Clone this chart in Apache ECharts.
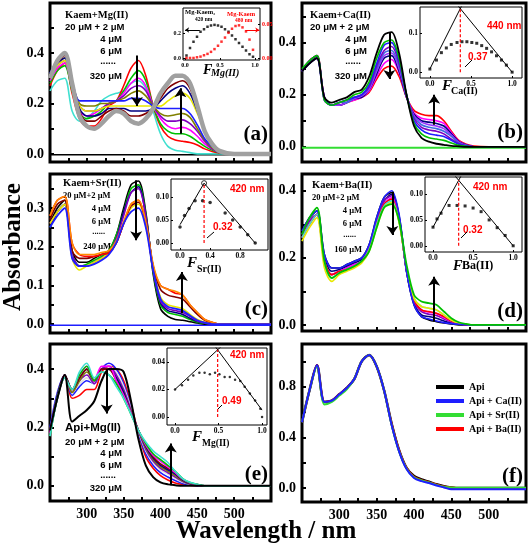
<!DOCTYPE html>
<html><head><meta charset="utf-8">
<script src="https://cdn.jsdelivr.net/npm/echarts@6/dist/echarts.min.js"></script>
<style>html,body{margin:0;padding:0;background:#fff}#c{width:529px;height:550px}</style>
</head><body><div id="c"></div>
<script>
// ---------- DATA ----------
const W = [250,260,270,280,290,300,310,320,330,340,350,360,370,380,390,400,410,420,430,440,450,460,470,480,500,550];
const baseW = [250, 550];
const baseZero = [-0.003, -0.003];

const aRed    = [.27,.33,.36,.24,.14,.11,.11,.14,.19,.21,.27,.34,.37,.31,.19,.11,.07,.055,.05,.045,.035,.02,.01,.004,0,0];
const aCyan   = [.25,.29,.30,.17,.13,.14,.17,.21,.23,.24,.25,.28,.29,.26,.17,.08,.03,.015,.01,.005,0,0,0,0,0,0];
const aGreen  = [.28,.33,.35,.25,.16,.14,.15,.17,.20,.21,.25,.30,.33,.29,.19,.12,.09,.08,.08,.07,.05,.03,.015,.005,0,0];
const aMag    = [.29,.34,.36,.26,.17,.15,.16,.18,.20,.21,.24,.28,.30,.27,.19,.14,.11,.10,.105,.095,.07,.04,.02,.006,0,0];
const aPurple = [.30,.35,.37,.27,.19,.17,.17,.18,.20,.21,.23,.26,.27,.25,.19,.15,.13,.13,.135,.12,.09,.05,.02,.007,0,0];
const aOlive  = [.31,.36,.38,.28,.20,.19,.19,.20,.20,.21,.22,.24,.25,.23,.19,.16,.15,.155,.16,.145,.10,.055,.025,.008,0,0];
const aBlue   = [.32,.37,.40,.29,.21,.21,.21,.21,.21,.21,.21,.22,.22,.21,.19,.18,.18,.18,.18,.16,.115,.06,.03,.01,0,0];
const aYellow = [.30,.35,.37,.27,.19,.17,.17,.18,.19,.19,.19,.19,.19,.19,.19,.19,.21,.23,.24,.22,.16,.09,.04,.012,0,0];
const aNavy   = [.31,.36,.38,.28,.18,.15,.15,.16,.18,.18,.18,.17,.17,.17,.18,.21,.24,.26,.27,.24,.17,.09,.04,.012,0,0];
const aWine   = [.30,.36,.39,.28,.17,.13,.13,.15,.17,.18,.17,.15,.15,.16,.18,.22,.26,.28,.29,.26,.18,.09,.04,.012,0,0];
const aGray   = [.30,.37,.40,.28,.15,.11,.10,.12,.15,.17,.16,.13,.12,.14,.18,.24,.28,.31,.31,.28,.19,.09,.04,.012,0,0];

const bBlack  = [.29,.32,.34,.19,.17,.18,.19,.21,.22,.27,.36,.43,.44,.36,.20,.08,.035,.02,.012,.008,.004,.002,0,0,0,0];
const bGreen  = [.30,.33,.35,.18,.16,.17,.18,.20,.21,.25,.34,.40,.41,.34,.20,.09,.05,.035,.03,.025,.015,.006,.002,0,0,0];
const bBlue1  = [.29,.32,.34,.19,.16,.17,.18,.19,.20,.24,.32,.39,.40,.33,.20,.10,.065,.05,.045,.04,.025,.01,.003,0,0,0];
const bPurple = [.29,.32,.34,.19,.16,.17,.18,.19,.20,.23,.31,.37,.385,.32,.20,.11,.075,.065,.06,.05,.03,.012,.004,0,0,0];
const bBlue2  = [.29,.32,.34,.18,.16,.17,.17,.19,.20,.23,.30,.36,.37,.31,.195,.115,.085,.075,.07,.06,.04,.015,.005,0,0,0];
const bViolet = [.29,.33,.34,.18,.16,.16,.17,.185,.195,.22,.29,.35,.36,.30,.195,.12,.095,.085,.08,.07,.045,.018,.006,0,0,0];
const bNavy   = [.29,.33,.35,.18,.16,.16,.17,.185,.19,.22,.28,.34,.35,.29,.19,.125,.10,.095,.09,.08,.05,.02,.007,0,0,0];
const bMag    = [.29,.33,.35,.18,.16,.16,.17,.18,.19,.215,.27,.32,.335,.285,.19,.13,.11,.105,.10,.09,.055,.022,.008,0,0,0];
const bRed    = [.29,.33,.35,.19,.16,.16,.17,.18,.19,.21,.26,.30,.31,.27,.19,.14,.125,.12,.12,.10,.06,.025,.01,.003,0,0];

const cBlack  = [.26,.30,.32,.19,.16,.16,.17,.18,.19,.23,.30,.36,.37,.29,.13,.04,.02,.012,.01,.006,.003,0,0,0,0,0];
const cGreen  = [.25,.29,.31,.18,.15,.155,.165,.175,.19,.23,.29,.35,.36,.285,.135,.05,.03,.025,.02,.012,.005,.002,0,0,0,0];
const cNavy   = [.25,.29,.31,.18,.15,.15,.16,.17,.185,.22,.29,.34,.355,.28,.14,.055,.035,.03,.025,.015,.007,.003,0,0,0,0];
const cPurple = [.26,.29,.31,.18,.15,.15,.16,.17,.185,.22,.28,.34,.35,.28,.14,.06,.04,.035,.03,.02,.008,.003,0,0,0,0];
const cBlue   = [.25,.28,.30,.17,.15,.15,.155,.165,.18,.21,.26,.29,.30,.25,.14,.065,.045,.04,.035,.022,.01,.004,0,0,0,0];
const cYellow = [.26,.29,.31,.17,.14,.15,.16,.17,.185,.21,.26,.30,.31,.26,.145,.07,.05,.045,.04,.025,.012,.005,.002,0,0,0];
const cWine   = [.27,.31,.32,.19,.17,.17,.175,.18,.185,.21,.26,.305,.315,.265,.15,.09,.075,.07,.065,.045,.025,.01,.004,0,0,0];
const cRed    = [.28,.32,.33,.21,.18,.175,.175,.18,.185,.21,.26,.31,.32,.26,.15,.10,.09,.08,.075,.05,.03,.012,.005,0,0,0];
const cOrange = [.28,.32,.33,.21,.18,.18,.18,.185,.19,.215,.265,.31,.32,.265,.155,.10,.09,.085,.075,.05,.03,.012,.005,0,0,0];

const dBlue   = [.28,.32,.34,.21,.17,.17,.18,.19,.20,.24,.32,.38,.40,.33,.16,.06,.025,.018,.012,.007,.004,.002,0,0,0,0];
const dBlack  = [.28,.32,.34,.21,.17,.17,.18,.19,.20,.24,.32,.38,.395,.325,.16,.06,.025,.015,.01,.006,.003,0,0,0,0,0];
const dNavy   = [.27,.31,.33,.20,.16,.165,.175,.185,.195,.23,.31,.37,.39,.32,.16,.065,.03,.025,.02,.012,.006,.003,0,0,0,0];
const dPurple = [.27,.31,.33,.19,.15,.16,.17,.18,.19,.23,.31,.37,.385,.32,.165,.07,.04,.032,.028,.018,.009,.004,0,0,0,0];
const dMag    = [.26,.30,.33,.19,.15,.16,.17,.18,.19,.23,.30,.36,.38,.315,.165,.075,.045,.038,.034,.022,.011,.005,0,0,0,0];
const dRed    = [.26,.30,.33,.19,.15,.16,.165,.175,.19,.225,.30,.36,.375,.31,.165,.075,.045,.04,.035,.025,.012,.005,0,0,0,0];
const dCyan   = [.26,.30,.33,.18,.14,.155,.165,.175,.19,.225,.30,.355,.37,.31,.17,.08,.055,.05,.045,.03,.015,.006,.002,0,0,0];
const dYellow = [.25,.29,.32,.17,.13,.15,.16,.17,.185,.22,.29,.35,.365,.305,.17,.08,.055,.05,.045,.03,.015,.006,.002,0,0,0];
const dGreen  = [.27,.32,.35,.19,.14,.155,.165,.175,.19,.22,.29,.35,.36,.31,.18,.09,.07,.065,.06,.04,.02,.008,.003,0,0,0];

const eBlack  = [.19,.30,.38,.22,.24,.26,.29,.36,.40,.40,.39,.29,.16,.07,.03,.012,.005,.002,0,0,0,0,0,0,0,0];
const eRed    = [.19,.31,.38,.30,.31,.33,.33,.39,.41,.40,.36,.28,.18,.10,.06,.035,.02,.01,.005,.002,0,0,0,0,0,0];
const eBlue   = [.20,.32,.38,.31,.34,.36,.35,.40,.42,.40,.35,.27,.18,.11,.07,.045,.03,.018,.008,.003,0,0,0,0,0,0];
const eGray   = [.19,.31,.38,.32,.35,.37,.35,.40,.41,.39,.34,.265,.185,.12,.08,.055,.04,.025,.012,.005,.002,0,0,0,0,0];
const ePurple = [.19,.31,.38,.32,.36,.38,.35,.40,.41,.38,.33,.26,.19,.125,.085,.06,.045,.03,.015,.006,.002,0,0,0,0,0];
const eOlive  = [.18,.31,.38,.32,.36,.39,.36,.40,.40,.37,.32,.255,.19,.13,.09,.065,.05,.035,.017,.007,.003,0,0,0,0,0];
const eNavy   = [.18,.31,.38,.33,.37,.40,.36,.40,.40,.37,.32,.25,.19,.135,.095,.07,.055,.04,.02,.008,.003,0,0,0,0,0];
const eWine   = [.18,.30,.38,.33,.37,.40,.36,.40,.40,.36,.31,.25,.19,.14,.10,.075,.06,.045,.022,.01,.004,0,0,0,0,0];
const eMag    = [.18,.30,.37,.33,.38,.41,.36,.41,.41,.36,.31,.25,.19,.14,.105,.085,.065,.045,.023,.01,.004,0,0,0,0,0];
const eGreen  = [.17,.30,.37,.33,.38,.41,.36,.39,.38,.35,.30,.245,.19,.145,.11,.09,.07,.05,.025,.011,.005,0,0,0,0,0];
const eCyan   = [.17,.30,.37,.33,.39,.42,.37,.39,.38,.34,.30,.245,.19,.15,.12,.10,.08,.05,.025,.012,.005,0,0,0,0,0];

const fApi    = [.52,.77,.97,.68,.69,.74,.79,.86,1.00,1.05,.96,.77,.51,.30,.16,.095,.068,.05,.03,.015,.005,0,0,0,0,0];
const fApiBa  = [.52,.77,.97,.68,.69,.74,.79,.86,1.00,1.05,.96,.77,.51,.30,.16,.09,.063,.047,.028,.013,.005,0,0,0,0,0];
const fApiSr  = [.52,.77,.96,.66,.68,.73,.78,.86,1.00,1.05,.96,.77,.50,.29,.155,.085,.06,.044,.025,.01,.004,.002,.002,.002,.002,.002];
const fApiCa  = [.52,.77,.97,.68,.69,.74,.79,.86,1.00,1.05,.96,.77,.50,.29,.15,.08,.055,.04,.02,.005,-.01,-.01,-.01,-.01,-.01,-.01];
const fNames  = ['Api','Api + Ca(II)','Api + Sr(II)','Api + Ba(II)'];

const iaX     = [0.02,0.07,0.12,0.17,0.22,0.27,0.32,0.37,0.42,0.47,0.52,0.57,0.62,0.67,0.72,0.77,0.82,0.87,0.92,0.97];
const iaKaem2 = [0.02,0.08,0.13,0.17,0.21,0.23,0.25,0.26,0.265,0.26,0.25,0.23,0.21,0.18,0.15,0.12,0.09,0.06,0.03,0.01];
const iaKaem  = [0.0,0.0,0.0,0.001,0.002,0.004,0.006,0.009,0.013,0.018,0.024,0.03,0.037,0.043,0.047,0.048,0.045,0.039,0.027,0.012];
const ibX = [0,0.08,0.14,0.2,0.26,0.33,0.39,0.45,0.51,0.57,0.63,0.69,0.75,0.81,0.87,0.93,1.0];
const ibY = [0.008,0.031,0.05,0.062,0.071,0.076,0.078,0.078,0.076,0.074,0.068,0.061,0.052,0.042,0.031,0.018,0.0];
const ibLeftX = [0, 0.42], ibLeftY = [0.008, 0.184];
const ibRightX = [0.3, 1.0], ibRightY = [0.181, 0.0];
const ibPeak = [0.37, 0.163];
const icX = [0,0.06,0.12,0.2,0.3,0.4,0.6,0.7,0.8,0.9,1.0];
const icY = [0.035,0.06,0.075,0.092,0.092,0.088,0.065,0.05,0.035,0.018,0.0];
const icLeftX = [0, 0.32], icLeftY = [0.04, 0.13];
const icRightX = [0.32, 1.0], icRightY = [0.13, 0.0];
const icPeak = [0.32, 0.13];
const idX = [0,0.05,0.1,0.2,0.3,0.4,0.5,0.6,0.7,0.8,0.9,1.0];
const idY = [0.036,0.052,0.063,0.078,0.078,0.077,0.073,0.066,0.05,0.035,0.02,0.0];
const idLeftX = [0, 0.42], idLeftY = [0.036, 0.155];
const idRightX = [0.2, 1.0], idRightY = [0.149, 0.0];
const idPeak = [0.32, 0.127];
const ieX = [0,0.08,0.15,0.21,0.28,0.34,0.40,0.46,0.51,0.57,0.63,0.69,0.75,0.80,0.86,0.92,0.98,1.0];
const ieY = [0.020,0.023,0.027,0.030,0.032,0.032,0.031,0.032,0.031,0.029,0.029,0.027,0.026,0.022,0.017,0.012,0.006,0.0];
const ieLeftX = [0, 0.56], ieLeftY = [0.020, 0.0528];
const ieRightX = [0.42, 1.0], ieRightY = [0.0547, 0.005];
const iePeak = [0.49, 0.0487];

const xTicks = [275,300,325,350,375,400,425,450,475,500,525];
const xLabels = [300,350,400,450,500];
const ibTickLabels = [0, 0.1];
const idTickLabels = [0, 0.05, 0.1];

// ---------- CHART ----------
const SERIF = '"Liberation Serif","Times New Roman",serif';
const SANS = '"Liberation Sans",Arial,sans-serif';
const C = {red:'#ff0000', black:'#000000', blue:'#1e1eff', mag:'#ff00ff', olive:'#808000', navy:'#000080',
  purple:'#8000c0', violet:'#9933ff', wine:'#800000', cyan:'#40e0d0', green:'#00c000', yellow:'#e8e800',
  orange:'#ff8c00', gray:'#a0a0a0', lime:'#33dd33', royal:'#4169e1'};

const grids = [
  {left:50, top:3, width:221, height:159},
  {left:302, top:3, width:224, height:159},
  {left:50, top:174, width:221, height:159},
  {left:302, top:174, width:224, height:157},
  {left:50, top:344, width:221, height:157},
  {left:302, top:344, width:224, height:158},
  {left:183, top:8, width:77, height:52},
  {left:420, top:7, width:102, height:71},
  {left:171, top:179, width:97, height:71},
  {left:425, top:177, width:97, height:75},
  {left:167, top:348, width:100, height:77}
].map((g,i)=>Object.assign(g,{show:true, borderColor:'#000', borderWidth: i<6?3:1, backgroundColor: i<6?'transparent':'#fff'}));

const xAxes = [], yAxes = [];
for (let i=0;i<6;i++){
  xAxes.push({type:'value', gridIndex:i, min:250, max:550, position:'bottom', axisLine:{show:false, onZero:false}, splitLine:{show:false},
    axisTick:{show:true, inside:true, length:4, lineStyle:{color:'#000', width:2}, customValues:xTicks},
    axisLabel:{show:i>=4, customValues:xLabels, fontFamily:SERIF, fontWeight:'bold', fontSize:14, color:'#000', margin:6}});
}
const mainY = [
  {min:-0.032, max:0.598, labels:[0,0.2,0.4], ticks:[0,0.1,0.2,0.3,0.4,0.5]},
  {min:-0.058, max:0.552, labels:[0,0.2,0.4], ticks:[0,0.1,0.2,0.3,0.4,0.5]},
  {min:-0.023, max:0.388, labels:[0,0.1,0.2,0.3], ticks:[0,0.05,0.1,0.15,0.2,0.25,0.3,0.35]},
  {min:-0.018, max:0.45, labels:[0,0.2,0.4], ticks:[0,0.1,0.2,0.3,0.4]},
  {min:-0.052, max:0.486, labels:[0,0.2,0.4], ticks:[0,0.1,0.2,0.3,0.4]},
  {min:-0.11, max:1.137, labels:[0,0.4,0.8], ticks:[0,0.2,0.4,0.6,0.8,1.0]}
];
mainY.forEach((m,i)=>yAxes.push({type:'value', gridIndex:i, min:m.min, max:m.max, position:'left', axisLine:{show:false, onZero:false}, splitLine:{show:false},
  axisTick:{show:true, inside:true, length:4, lineStyle:{color:'#000', width:2}, customValues:m.ticks},
  axisLabel:{customValues:m.labels, formatter:v=>v.toFixed(1), fontFamily:SERIF, fontWeight:'bold', fontSize:14, color:'#000', margin:6}}));

function insetX(gi, min, max, labels){
  return {type:'value', gridIndex:gi, min, max, position:'bottom', axisLine:{show:false, onZero:false}, splitLine:{show:false},
    axisTick:{show:true, inside:true, length:2, lineStyle:{color:'#000', width:1}, customValues:labels},
    axisLabel:{customValues:labels, formatter:v=>v.toFixed(1), fontFamily:SERIF, fontWeight:'bold', fontSize: gi===6?6:7.5, color:'#000', margin:2}};
}
function insetY(gi, min, max, labels, dec, pos, color, hideLab){
  return {type:'value', gridIndex:gi, min, max, position:pos||'left', axisLine:{show:false, onZero:false}, splitLine:{show:false},
    axisTick:{show:true, inside:true, length:2, lineStyle:{color:'#000', width:1}, customValues:labels},
    axisLabel:{show:!hideLab, customValues:labels, formatter:v=>v.toFixed(dec), fontFamily:SERIF, fontWeight:'bold', fontSize: gi===6?6:7.5, color:color||'#000', margin:2}};
}
xAxes.push(insetX(6,-0.03,1.07,[0,0.5,1]));
xAxes.push(insetX(7,-0.12,1.12,[0,0.5,1]));
xAxes.push(insetX(8,-0.12,1.17,[0,0.4,0.8]));
xAxes.push(insetX(9,-0.1,1.11,[0,0.5,1]));
xAxes.push(insetX(10,-0.092,1.057,[0,0.5,1]));
yAxes.push(insetY(6,-0.016,0.4,[0,0.2],1));
yAxes.push(insetY(6,-0.003,0.0735,[0,0.05],2,'right',C.red));
yAxes.push(insetY(7,-0.015,0.167,ibTickLabels,1,'left',null,true));
yAxes.push(insetY(8,-0.015,0.139,[0,0.05,0.1],2));
yAxes.push(insetY(9,-0.012,0.133,idTickLabels,2,'left',null,true));
yAxes.push(insetY(10,-0.0058,0.050,[0,0.02,0.04],2));

const series = [];
function toPts(xs, ys){ return xs.map((x,i)=>[x, ys[i]]); }
function curve(gi, arr, color, width, name){
  const s = {type:'line', name, xAxisIndex:gi, yAxisIndex:gi, data:toPts(W,arr), smooth:0.3, showSymbol:false,
    lineStyle:{color, width:width||1.6}, itemStyle:{color}, emphasis:{disabled:true}, silent:true, animation:false};
  series.push(s); return s;
}
function arrows(s, list){
  s.markLine = {silent:true, animation:false, symbol:['none','arrow'], symbolSize:9, label:{show:false},
    emphasis:{disabled:true}, lineStyle:{color:'#000', width:2, type:'solid'}, itemStyle:{color:'#000'},
    data:list.map(a=>[{coord:[a[0],a[1]]},{coord:[a[2],a[3]]}])};
}
const arrowsA = [[368,0.39,368,0.19],[427,0.08,427,0.26]];
const arrowsB = [[367,0.44,367,0.26],[427,0.085,427,0.2]];
const arrowsC = [[367,0.372,367,0.217],[429,0.028,429,0.135]];
const arrowsD = [[371,0.397,371,0.268],[427,0.01,427,0.144]];
const arrowsE = [[327,0.40,327,0.248],[414,0.002,414,0.145]];

series.push({type:'line', xAxisIndex:0, yAxisIndex:0, data:toPts(baseW, baseZero), showSymbol:false, lineStyle:{color:'#000', width:1.5}, silent:true, animation:false});
series.push({type:'line', xAxisIndex:1, yAxisIndex:1, data:toPts(baseW, baseZero), showSymbol:false, lineStyle:{color:C.lime, width:2}, silent:true, animation:false});
series.push({type:'line', xAxisIndex:2, yAxisIndex:2, data:toPts(baseW, baseZero), showSymbol:false, lineStyle:{color:C.blue, width:1.5}, silent:true, animation:false});

[[aCyan,C.cyan],[aRed,C.red],[aGreen,C.green],[aMag,C.mag],[aPurple,C.purple],[aOlive,C.olive],[aYellow,C.yellow],[aBlue,C.blue],[aNavy,C.navy],[aWine,C.wine]].forEach(c=>curve(0,c[0],c[1]));
arrows(curve(0,aGray,C.gray,4.5), arrowsA);
[[bRed,C.red],[bMag,C.mag],[bNavy,C.navy],[bViolet,C.violet],[bBlue2,C.royal],[bPurple,C.purple],[bBlue1,C.blue],[bGreen,C.green]].forEach(c=>curve(1,c[0],c[1]));
arrows(curve(1,bBlack,C.black,1.8), arrowsB);
[[cBlack,C.black],[cGreen,C.green],[cNavy,C.navy],[cPurple,C.purple],[cYellow,C.yellow],[cWine,C.wine],[cRed,C.red],[cOrange,C.orange]].forEach(c=>curve(2,c[0],c[1]));
arrows(curve(2,cBlue,C.blue,1.8), arrowsC);
[[dBlack,C.black],[dNavy,C.navy],[dPurple,C.purple],[dMag,C.mag],[dRed,C.red],[dCyan,C.cyan],[dYellow,C.yellow],[dBlue,C.blue]].forEach(c=>curve(3,c[0],c[1]));
arrows(curve(3,dGreen,C.green,1.8), arrowsD);
[[eRed,C.red],[eBlue,C.blue],[eGray,'#e0e0e0'],[ePurple,C.purple],[eOlive,C.olive],[eNavy,C.navy],[eWine,C.wine],[eMag,C.mag],[eGreen,C.green],[eCyan,C.cyan]].forEach(c=>curve(4,c[0],c[1]));
arrows(curve(4,eBlack,C.black,2), arrowsE);
curve(5,fApi,C.black,2.5,fNames[0]);
curve(5,fApiBa,C.red,2,fNames[3]);
curve(5,fApiSr,C.lime,2,fNames[2]);
curve(5,fApiCa,C.blue,2,fNames[1]);

function scatter(xi, yi, xs, ys, color, sym, size){
  series.push({type:'scatter', xAxisIndex:xi, yAxisIndex:yi, data:toPts(xs,ys), symbol:sym||'rect', symbolSize:size||3,
    itemStyle:{color}, silent:true, animation:false, emphasis:{disabled:true}});
}
function plain(xi, yi, xs, ys, color, type, width){
  series.push({type:'line', xAxisIndex:xi, yAxisIndex:yi, data:toPts(xs,ys), showSymbol:false,
    lineStyle:{color, width:width||1, type:type||'solid'}, silent:true, animation:false});
}
function fit(xi, yi, lx, ly, rx, ry, peak){
  plain(xi, yi, lx, ly, '#000');
  plain(xi, yi, rx, ry, '#000');
  plain(xi, yi, [peak[0], peak[0]], [0, peak[1]], C.red, [3,2], 1.2);
}
scatter(6,6,iaX,iaKaem2,'#000','rect',2.5);
scatter(6,7,iaX,iaKaem,C.red,'rect',2.5);
series.push({type:'line', xAxisIndex:6, yAxisIndex:6, data:[], markLine:{silent:true, animation:false, symbol:['none','arrow'], symbolSize:4, label:{show:false}, lineStyle:{color:'#000', width:1, type:'solid'}, data:[[{coord:[0.21,0.224]},{coord:[0.0,0.224]}]]}});
series.push({type:'line', xAxisIndex:6, yAxisIndex:7, data:[], markLine:{silent:true, animation:false, symbol:['none','arrow'], symbolSize:4, label:{show:false}, lineStyle:{color:C.red, width:1, type:'solid'}, data:[[{coord:[0.86,0.041]},{coord:[1.06,0.041]}]]}});
fit(7,8,ibLeftX,ibLeftY,ibRightX,ibRightY,ibPeak); scatter(7,8,ibX,ibY,'#000','rect',3);
fit(8,9,icLeftX,icLeftY,icRightX,icRightY,icPeak); scatter(8,9,icX,icY,'#000','circle',3.5);
series.push({type:'scatter', xAxisIndex:8, yAxisIndex:9, data:[icPeak], symbol:'circle', symbolSize:5, itemStyle:{color:'#fff', borderColor:'#000', borderWidth:1}, silent:true, animation:false});
fit(9,10,idLeftX,idLeftY,idRightX,idRightY,idPeak); scatter(9,10,idX,idY,'#000','rect',3);
fit(10,11,ieLeftX,ieLeftY,ieRightX,ieRightY,iePeak); scatter(10,11,ieX,ieY,'#000','circle',2.5);

// ---------- TEXT ----------
const G = [];
function txt(text, x, y, opt){
  opt = opt||{};
  G.push({type:'text', x, y, rotation:opt.rot||0, silent:true, style:{text, fill:opt.color||'#000',
    font:(opt.style||'normal')+' '+(opt.weight||'bold')+' '+(opt.size||10)+'px '+(opt.family||SERIF),
    align:opt.align||'left', verticalAlign:'middle'}});
}
function seg(x1,y1,x2,y2){ G.push({type:'line', silent:true, shape:{x1,y1,x2,y2}, style:{stroke:'#000', lineWidth:1}}); }

txt('Absorbance', 14, 247, {size:25, align:'center', rot:Math.PI/2});
txt('Wavelength / nm', 266, 532, {size:25, align:'center'});
txt('(a)', 268, 135, {size:21, align:'right'});
txt('(b)', 523, 133, {size:21, align:'right'});
txt('(c)', 268, 310, {size:21, align:'right'});
txt('(d)', 523, 312, {size:21, align:'right'});
txt('(e)', 268, 475, {size:21, align:'right'});
txt('(f)', 523, 477, {size:21, align:'right'});
function note(x, xr, y0, dy, head, lines, last, fam, fs, hs){
  txt(head, x, y0, {size:hs||10.5});
  txt(lines[0], x, y0+dy, {size:fs, family:fam});
  txt(lines[1], xr, y0+2*dy, {size:fs, family:fam, align:'right'});
  txt(lines[2], xr, y0+3*dy, {size:fs, family:fam, align:'right'});
  txt('......', xr-6, y0+4*dy-2, {size:fs, family:fam, align:'right'});
  txt(last, xr, y0+5*dy, {size:fs, family:fam, align:'right'});
}
note(65, 122, 15, 12.2, 'Kaem+Mg(II)', ['20 μM + 2 μM','4 μM','6 μM'], '320 μM', SANS, 9.5);
note(310, 367, 15, 12.2, 'Kaem+Ca(II)', ['20 μM + 2 μM','4 μM','6 μM'], '320 μM', SANS, 9.5);
note(63, 111, 183, 12.8, 'Kaem+Sr(II)', ['20 μM+2 μM','4 μM','6 μM'], '240 μM', SERIF, 8.5);
note(312, 362, 185, 13, 'Kaem+Ba(II)', ['20 μM+2 μM','4 μM','6 μM'], '160 μM', SERIF, 8.5);
txt('Api+Mg(II)', 65, 428, {size:11.5, family:SANS});
txt('20 μM + 2 μM', 65, 442, {size:9.5, family:SANS});
txt('4 μM', 122, 453.5, {size:9.5, family:SANS, align:'right'});
txt('6 μM', 122, 465, {size:9.5, family:SANS, align:'right'});
txt('......', 116, 475, {size:9.5, family:SANS, align:'right'});
txt('320 μM', 122, 488, {size:9.5, family:SANS, align:'right'});
txt('Mg-Kaem₂', 185, 12, {size:6.5});
txt('420 nm', 195, 20, {size:5.5});
txt('Mg-Kaem', 227, 14, {size:6.5, color:C.red});
txt('480 nm', 235, 21, {size:5.5, color:C.red});
txt('F', 203, 70, {size:14, style:'italic'}); txt('Mg(II)', 211, 73, {size:10, style:'italic'});
txt('440 nm', 487, 26, {size:10, family:SANS, color:C.red});
txt('0.37', 468, 57, {size:10, family:SANS, color:C.red}); seg(465,67,472,60);
txt('F', 442, 86, {size:15, style:'italic'}); txt('Ca(II)', 451, 91, {size:10});
txt('420 nm', 230, 189, {size:10, family:SANS, color:C.red});
txt('0.32', 213, 227, {size:10, family:SANS, color:C.red}); seg(207,238,214,232);
txt('F', 187, 263, {size:15, style:'italic'}); txt('Sr(II)', 197, 269, {size:10});
txt('420 nm', 473, 187, {size:10, family:SANS, color:C.red});
txt('0.32', 463, 230, {size:10, family:SANS, color:C.red}); seg(461,238,467,232);
txt('F', 453, 266, {size:14, style:'italic'}); txt('Ba(II)', 462, 266, {size:12});
txt('420 nm', 230, 355, {size:10, family:SANS, color:C.red});
txt('0.49', 222, 401, {size:10, family:SANS, color:C.red}); seg(218,409,222,405);
txt('F', 192, 437, {size:15, style:'italic'}); txt('Mg(II)', 202, 444, {size:9.5});

const chart = echarts.init(document.getElementById('c'), null, {renderer:'canvas'});
chart.setOption({
  animation:false, backgroundColor:'#fff',
  grid:grids, xAxis:xAxes, yAxis:yAxes, series,
  legend:{data:[fNames[0],fNames[1],fNames[2],fNames[3]], orient:'vertical', left:431, top:377, itemWidth:28, itemHeight:4,
    itemGap:4, icon:'rect', selectedMode:false, textStyle:{fontFamily:SERIF, fontWeight:'bold', fontSize:10, color:'#000'}},
  graphic:{elements:G}
});

// Tick labels for the two right-hand insets, placed through each inset grid's own scale, on a top layer.
function insetLabels(gridIndex, xmin, vals, dec){
  vals.forEach(v=>{
    const p = chart.convertToPixel({gridIndex}, [xmin, v]);
    if (!p || !isFinite(p[0]) || !isFinite(p[1])) return;
    chart.getZr().add(new echarts.graphic.Text({
      x: p[0] - 2, y: p[1], z: 1000, zlevel: 5, silent: true,
      style: {text: v.toFixed(dec), fill: '#000', font: 'bold 7.5px ' + SERIF, align: 'right', verticalAlign: 'middle'}
    }));
  });
}
insetLabels(7, -0.12, ibTickLabels, 1);
insetLabels(9, -0.1, idTickLabels, 2);
</script></body></html>
